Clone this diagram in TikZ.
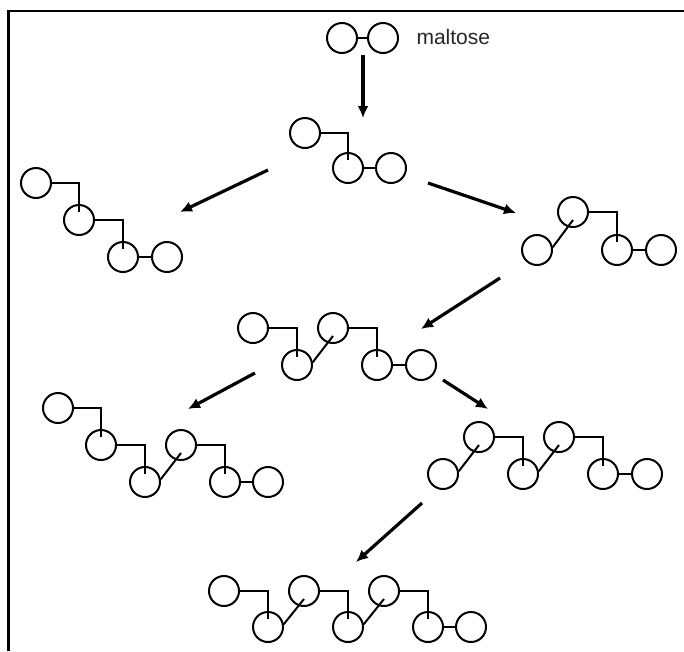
\documentclass[tikz,border=0pt]{standalone}
\usepackage{fontspec}
\setmainfont{Liberation Sans}
\usetikzlibrary{calc,arrows.meta}
\tikzset{
	glc/.style={draw, circle, minimum size=30pt, inner sep=0pt, line width=2pt},
	link/.style={line width=2pt},
	rxn/.style={line width=3.2pt, -{Latex[length=12pt,width=11pt]}}
}
\begin{document}
\begin{tikzpicture}[x=1pt, y=-1pt]
	\useasboundingbox (0,0) rectangle (684,651);
	\draw[line width=2.2pt] (8.5,651) |- (684,11);
	\foreach \n/\x/\y in {a1/342/38, a2/383/38,
		b1/305/133, b2/348/168, b3/391/168,
		c1/36/183, c2/79/220, c3/123/257, c4/167/257,
		d1/537/250, d2/573/212, d3/617/250, d4/661/250,
		e1/253/328, e2/297/365, e3/333/328, e4/377/365, e5/421/365,
		f1/58/408, f2/101/445, f3/145/482, f4/181/445, f5/225/482, f6/268/482,
		g1/443/474, g2/479/437, g3/523/474, g4/559/437, g5/603/474, g6/647/474,
		h1/224/591, h2/268/627, h3/304/591, h4/348/627, h5/384/591, h6/428/627, h7/471/627}{
		\node[glc] (\n) at (\x,\y) {};
	}
	\foreach \u/\v in {a1/a2, b2/b3, c3/c4, d3/d4, e4/e5, f5/f6, g5/g6, h6/h7}{
		\draw[link] (\u) -- (\v);
	}
	\foreach \u/\v in {b1/b2, c1/c2, c2/c3, d2/d3, e1/e2, e3/e4, f1/f2, f2/f3, f4/f5, g2/g3, g4/g5, h1/h2, h3/h4, h5/h6}{
		\draw[link] (\u.east) -| ($(\v.center)!0.5!(\v.north)$);
	}
	\foreach \u/\v in {d1/d2, e2/e3, f3/f4, g1/g2, g3/g4, h2/h3, h4/h5}{
		\draw[link] (\u.10) -- ($(\v.center)!0.5!(\v.south)$);
	}
	\node[anchor=base west, font=\fontsize{21}{25}\selectfont, text=black!85] (lbl) at (413,44) {maltose};
	\foreach \n/\x/\y in {s1/363/55, t1/363/118, s2/268/170, t2/180/212, s3/428/183, t3/516/213,
		s4/500/278, t4/421/329, s5/255/373, t5/188/409, s6/443/380, t6/488/409, s7/422/503, t7/356/562}{
		\coordinate (\n) at (\x,\y);
	}
	\foreach \i in {1,...,7}{
		\draw[rxn] (s\i) -- (t\i);
	}
\end{tikzpicture}
\end{document}
